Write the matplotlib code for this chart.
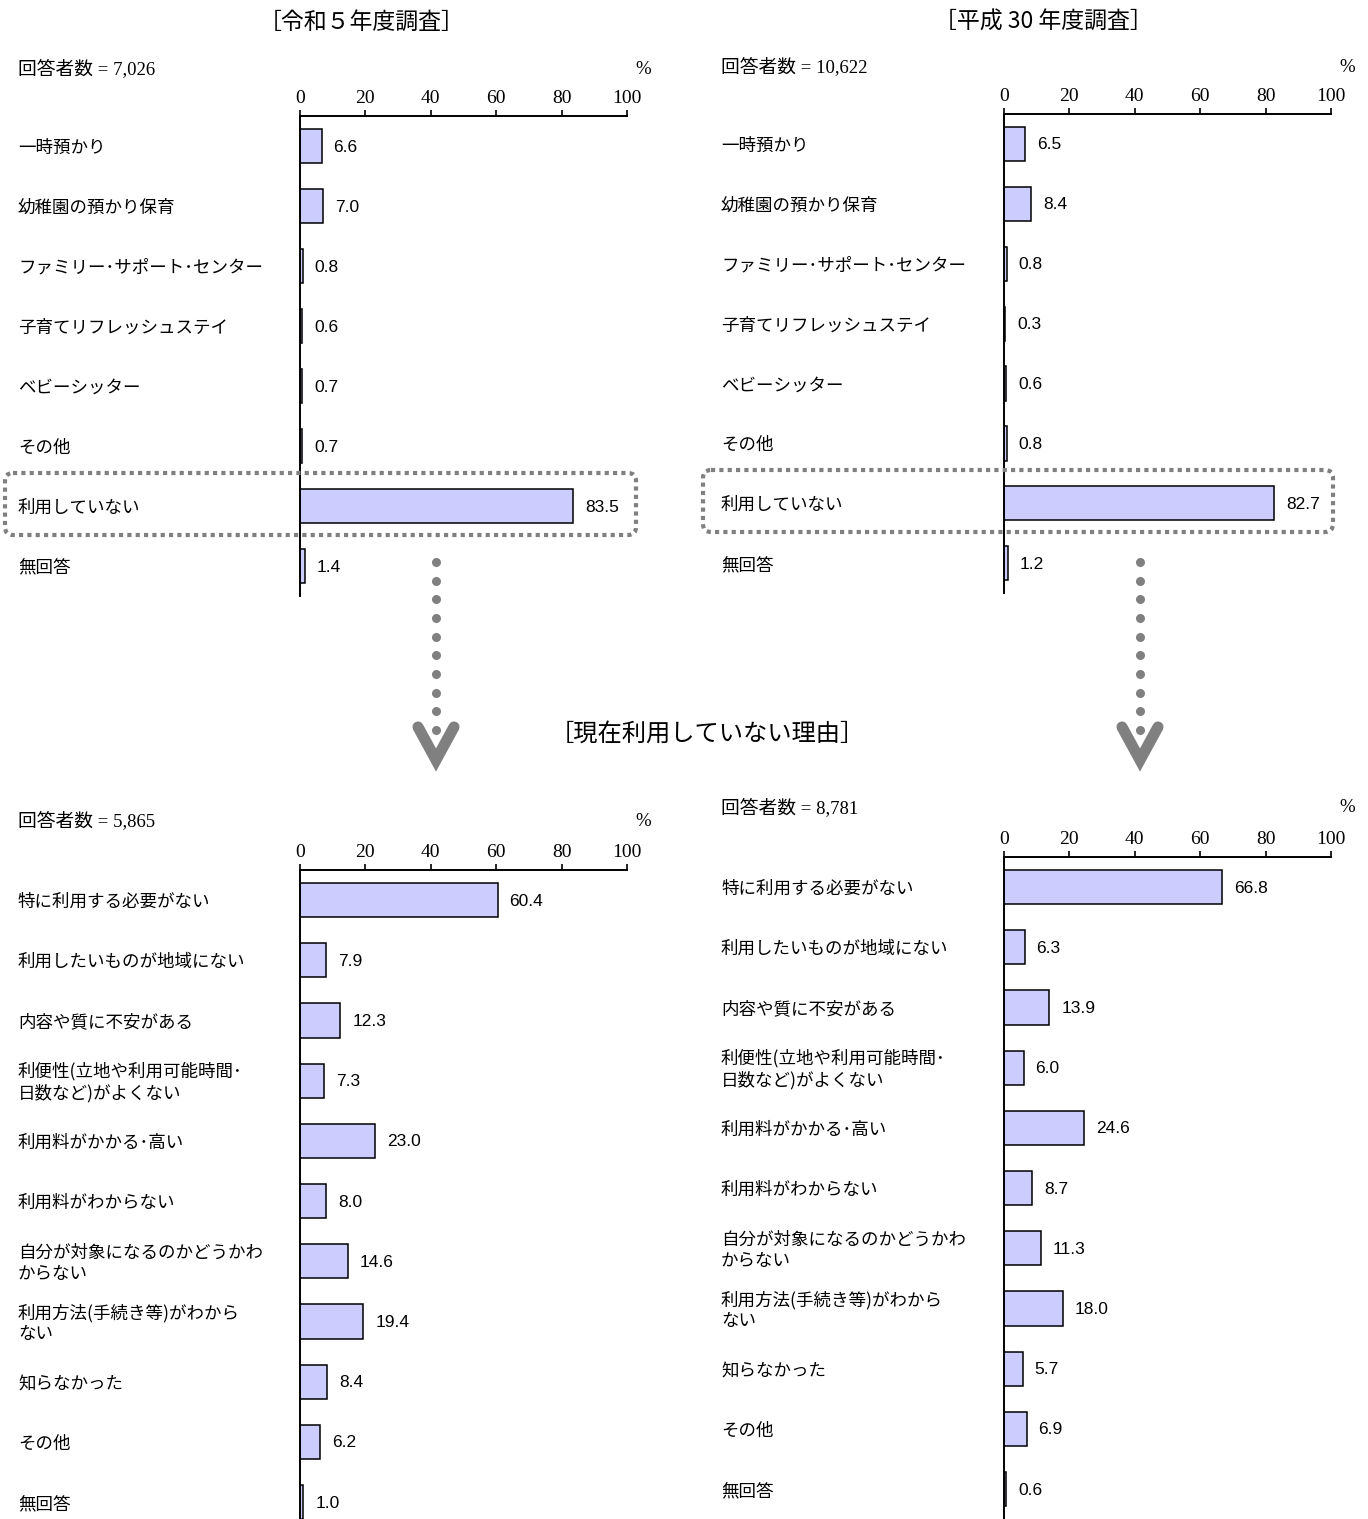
import matplotlib
matplotlib.use('Agg')
import matplotlib.pyplot as plt
from matplotlib.patches import FancyBboxPatch
import matplotlib.transforms as mtransforms

JP = ['Noto Sans CJK JP', 'DejaVu Sans']
SERIF = ['Liberation Serif', 'Noto Sans CJK JP']
NUM = ['Liberation Sans', 'DejaVu Sans']
plt.rcParams['font.family'] = JP

# ---------------- data ----------------
use_cats = ["一時預かり", "幼稚園の預かり保育", "ファミリー･サポート･センター",
            "子育てリフレッシュステイ", "ベビーシッター", "その他", "利用していない", "無回答"]
r5_use = [6.6, 7.0, 0.8, 0.6, 0.7, 0.7, 83.5, 1.4]
h30_use = [6.5, 8.4, 0.8, 0.3, 0.6, 0.8, 82.7, 1.2]

reason_cats = ["特に利用する必要がない", "利用したいものが地域にない", "内容や質に不安がある",
               "利便性(立地や利用可能時間･\n日数など)がよくない", "利用料がかかる･高い",
               "利用料がわからない", "自分が対象になるのかどうかわ\nからない",
               "利用方法(手続き等)がわから\nない", "知らなかった", "その他", "無回答"]
r5_reason = [60.4, 7.9, 12.3, 7.3, 23.0, 8.0, 14.6, 19.4, 8.4, 6.2, 1.0]
h30_reason = [66.8, 6.3, 13.9, 6.0, 24.6, 8.7, 11.3, 18.0, 5.7, 6.9, 0.6]

ticks = [0, 20, 40, 60, 80, 100]
tick_labels = ["0", "20", "40", "60", "80", "100"]

title_r5 = "［令和５年度調査］"
title_h30 = "［平成 30 年度調査］"
title_reason = "［現在利用していない理由］"
n_r5_use = "回答者数 = 7,026"
n_h30_use = "回答者数 = 10,622"
n_r5_reason = "回答者数 = 5,865"
n_h30_reason = "回答者数 = 8,781"

# ---------------- figure ----------------
W, H = 1368, 1519
fig = plt.figure(figsize=(W / 100, H / 100), dpi=100)
BAR = '#CCCCFF'
GRAY = '#808080'


def panel(x0, x1, top, step, cats, vals, label_x):
    n = len(cats)
    hgt = step * n
    ax = fig.add_axes([x0 / W, 1 - (top + hgt) / H, (x1 - x0) / W, hgt / H])
    ax.set_facecolor('none')
    ax.set_xlim(0, 100)
    ax.set_ylim(n - 0.5, -0.5)
    ax.barh(range(n), vals, height=0.57, color=BAR, edgecolor='black', linewidth=1.1)
    for s in ['right', 'bottom']:
        ax.spines[s].set_visible(False)
    for s in ['top', 'left']:
        ax.spines[s].set_linewidth(1.4)
    ax.xaxis.tick_top()
    ax.set_xticks(ticks)
    ax.set_xticklabels(tick_labels, family=SERIF, fontsize=14)
    ax.tick_params(axis='x', length=4.5, width=1.2, pad=2, direction='out')
    ax.set_yticks([])
    trans = mtransforms.blended_transform_factory(ax.transAxes, ax.transData)
    xf = (label_x - x0) / (x1 - x0)
    for i, (c, v) in enumerate(zip(cats, vals)):
        ax.text(xf, i + 0.03, c, transform=trans, ha='left', va='center',
                fontsize=12.6, linespacing=1.22, family=JP)
        ax.annotate(f"{v:.1f}", xy=(v, i), xytext=(12, -1), textcoords='offset pixels',
                    ha='left', va='center', fontsize=12.5, family=NUM)
    return ax


panel(300, 627, 116, 60.0, use_cats, r5_use, 18)
panel(1004, 1331, 114, 59.9, use_cats, h30_use, 721)
panel(300, 627, 870, 60.2, reason_cats, r5_reason, 18)
panel(1004, 1331, 857, 60.2, reason_cats, h30_reason, 721)

# ---------------- overlay ----------------
ov = fig.add_axes([0, 0, 1, 1], zorder=5)
ov.set_xlim(0, W)
ov.set_ylim(H, 0)
ov.axis('off')

ov.text(362, 22, title_r5, ha='center', va='center', fontsize=16.5)
ov.text(1043, 22, title_h30, ha='center', va='center', fontsize=16.5)
ov.text(707, 734, title_reason, ha='center', va='center', fontsize=17.5)

for (x, y, t) in [(18, 69, n_r5_use), (721, 67, n_h30_use),
                  (18, 821, n_r5_reason), (721, 808, n_h30_reason)]:
    ov.text(x, y, t, ha='left', va='center', fontsize=13.5, family=SERIF)
for (x, y) in [(643, 69), (1347, 67), (643, 821), (1347, 808)]:
    ov.text(x, y, "%", ha='center', va='center', fontsize=13.5, family=SERIF)

# dotted boxes
for (bx, by, bw, bh) in [(5, 473, 631, 62), (703, 470, 630, 62)]:
    ov.add_patch(FancyBboxPatch((bx, by), bw, bh,
                                boxstyle='round,pad=0,rounding_size=8',
                                fill=False, ec=GRAY, lw=3, linestyle=(0, (1, 1))))

# dotted arrows
for ax_x in [436, 1140]:
    ys = [562 + k * 18.67 for k in range(10)]
    ov.plot([ax_x] * len(ys), ys, 'o', ms=6.5, color=GRAY, mec='none')
    ov.plot([ax_x - 18, ax_x, ax_x + 18], [727, 760, 727], color=GRAY, lw=8,
            solid_capstyle='round', solid_joinstyle='miter')

fig.savefig('out.png', dpi=100)
